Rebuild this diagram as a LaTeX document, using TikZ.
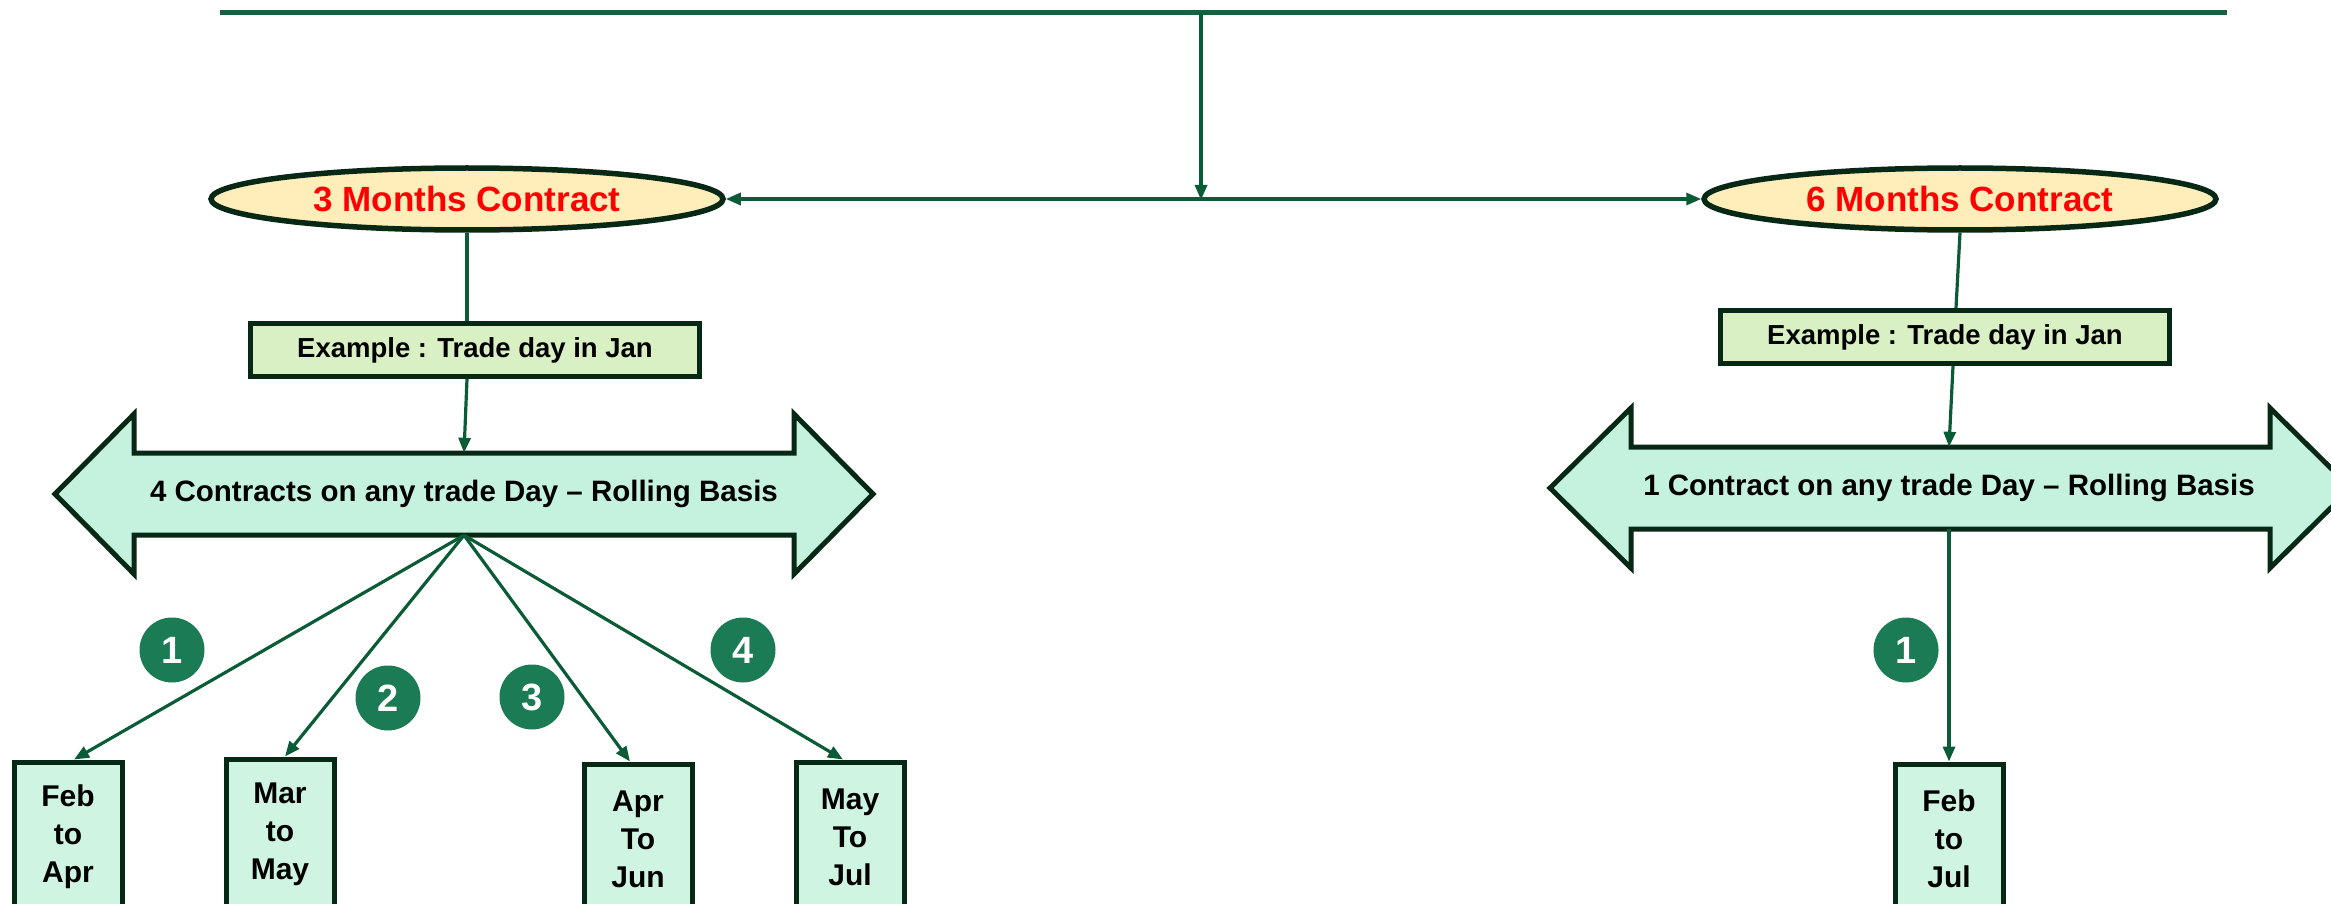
\documentclass[tikz,border=0pt]{standalone}
\usepackage{fontspec}
\setmainfont{Liberation Sans}
\usetikzlibrary{shapes.geometric,arrows.meta,calc}
\definecolor{lnk}{HTML}{0A5C36}
\definecolor{topc}{HTML}{1E5E40}
\definecolor{bord}{HTML}{072815}
\definecolor{ellfill}{HTML}{FFEDBA}
\definecolor{exfill}{HTML}{D9F0C5}
\definecolor{arrfill}{HTML}{C4F2DF}
\definecolor{monfill}{HTML}{CFF5E2}
\definecolor{circfill}{HTML}{1B7B55}
\definecolor{ellred}{HTML}{FF0000}
\begin{document}
\begin{tikzpicture}[x=1pt,y=-1pt,
  conn/.style={draw=lnk, line width=3.2pt},
  tipend/.style={-{Triangle[length=15pt,width=12pt]}},
  tipboth/.style={{Triangle[length=15pt,width=12pt]}-{Triangle[length=15pt,width=12pt]}},
  contract/.style={ellipse, draw=bord, line width=5.5pt, fill=ellfill, minimum width=512pt, minimum height=62pt, inner sep=0pt, text=ellred, font=\bfseries\fontsize{35}{40}\selectfont},
  exbox/.style={rectangle, draw=bord, line width=5pt, fill=exfill, minimum width=449pt, minimum height=53pt, inner sep=0pt, font=\bfseries\fontsize{27.5}{32}\selectfont},
  arrshape/.style={draw=bord, line width=5pt, fill=arrfill, line join=miter},
  arrtext/.style={inner sep=0pt, minimum height=82pt, font=\bfseries\fontsize{29.5}{34}\selectfont},
  monbox/.style={rectangle, draw=bord, line width=5pt, fill=monfill, minimum width=108pt, minimum height=150pt, inner sep=0pt, align=center, font=\bfseries\fontsize{30}{38}\selectfont},
  numcirc/.style={circle, fill=circfill, minimum size=65pt, inner sep=0pt, text=white, font=\bfseries\fontsize{38}{42}\selectfont}
]
\useasboundingbox (0,0) rectangle (2331,904);

% top bar
\coordinate (tl) at (220,13);
\coordinate (tr) at (2227,13);
\coordinate (tm) at (1201,13);
\coordinate (hmid) at (1201,200);
\draw[draw=topc, line width=5pt] (tl) -- (tr);

% contract ellipses
\node[contract] (ell3) at (467,199) {3 Months Contract};
\node[contract] (ell6) at (1960,199) {6 Months Contract};

\draw[conn, tipend] (tm) -- (hmid);
\draw[conn, tipboth] (ell3.east) -- (ell6.west);

% example boxes
\node[exbox] (ex3) at (475,350) {Example : Trade day in Jan};
\node[exbox] (ex6) at (1945,337) {Example : Trade day in Jan};

% double arrows
\draw[arrshape] (55,494) -- (134,414) -- (134,453) -- (794,453) -- (794,414) -- (873,494)
  -- (794,574) -- (794,535) -- (134,535) -- (134,574) -- cycle;
\node[arrtext] (arr3) at (464,494) {4 Contracts on any trade Day – Rolling Basis};

\draw[arrshape] (1550,488) -- (1631,408) -- (1631,447) -- (2270,447) -- (2270,408) -- (2351,488)
  -- (2270,568) -- (2270,529) -- (1631,529) -- (1631,568) -- cycle;
\node[arrtext] (arr6) at (1949,488) {1 Contract on any trade Day – Rolling Basis};

% connectors ellipse -> box -> arrow
\draw[conn] (ell3.south) -- (ell3.south |- ex3.north);
\draw[conn, tipend] (ell3.south |- ex3.south) -- (arr3.north);
\draw[conn] (ell6.south) -- ($(ex6.north)+(11,0)$);
\draw[conn, tipend] ($(ex6.south)+(8,0)$) -- (arr6.north);

% month boxes
\node[monbox] (m1) at (68,837) {Feb\\to\\Apr};
\node[monbox] (m2) at (280,834) {Mar\\to\\May};
\node[monbox] (m3) at (638,839) {Apr\\To\\Jun};
\node[monbox] (m4) at (850,837) {May\\To\\Jul};
\node[monbox] (m6) at (1949,839) {Feb\\to\\Jul};

\draw[conn, tipend] (arr3.south) -- ($(m1.north)+(6,0)$);
\draw[conn, tipend] (arr3.south) -- ($(m2.north)+(5,0)$);
\draw[conn, tipend] (arr3.south) -- ($(m3.north)+(-8,0)$);
\draw[conn, tipend] (arr3.south) -- ($(m4.north)+(-7,0)$);
\draw[conn, tipend] (arr6.south) -- (m6.north);

% numbers
\node[numcirc] (c1) at (172,650) {1};
\node[numcirc] (c2) at (388,698) {2};
\node[numcirc] (c3) at (532,697) {3};
\node[numcirc] (c4) at (743,650) {4};
\node[numcirc] (c6) at (1906,650) {1};
\end{tikzpicture}
\end{document}
